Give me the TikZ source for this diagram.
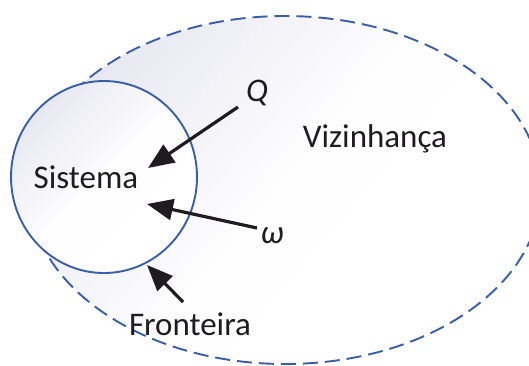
\documentclass[tikz,border=0pt]{standalone}
\usepackage{fontspec}
\setmainfont{Carlito}
\usetikzlibrary{arrows.meta}
\definecolor{bline}{RGB}{56,94,170}
\definecolor{shadec}{RGB}{232,232,242}
\definecolor{txt}{RGB}{30,28,30}
\tikzset{
  lbl/.style={inner sep=0pt, anchor=base, text=txt, font=\fontsize{33}{38}\selectfont},
  flowarrow/.style={draw=txt, line width=3.2pt, -{Triangle[length=26pt,width=21pt]}},
}
\begin{document}
\begin{tikzpicture}[x=1pt,y=-1pt]
\useasboundingbox (0,0) rectangle (529,365);
\clip (0,0) rectangle (529,365);
% surroundings (dashed ellipse)
\shade[top color=shadec, bottom color=white, middle color=white!97!shadec, shading angle=50]
  (285,190) ellipse [x radius=256, y radius=174];
\draw[bline, line width=1.9pt, dash pattern=on 15pt off 7pt] (285,190) ellipse [x radius=256, y radius=174];
% system (circle)
\shade[top color=shadec, bottom color=white, middle color=white!96!shadec, shading angle=45]
  (104,177) ellipse [x radius=93, y radius=96];
\draw[bline, line width=1.9pt] (104,177) ellipse [x radius=93, y radius=96];
% labels
\node[lbl] (sis) at (86,188) {Sistema};
\node[lbl] (viz) at (375,147) {Vizinhança};
\node[lbl] (fro) at (190,335) {Fronteira};
\node[lbl] (q) at (257,101) {\itshape Q};
\node[lbl] (w) at (272,243) {\itshape ω};
% arrow end points
\coordinate (qs) at (238,107);
\coordinate (qt) at (148,168);
\coordinate (ws) at (257,228);
\coordinate (wt) at (147,204);
\coordinate (fs) at (183,302);
\coordinate (ft) at (147,265);
\draw[flowarrow] (qs) -- (qt);
\draw[flowarrow] (ws) -- (wt);
\draw[flowarrow] (fs) -- (ft);
\end{tikzpicture}
\end{document}
